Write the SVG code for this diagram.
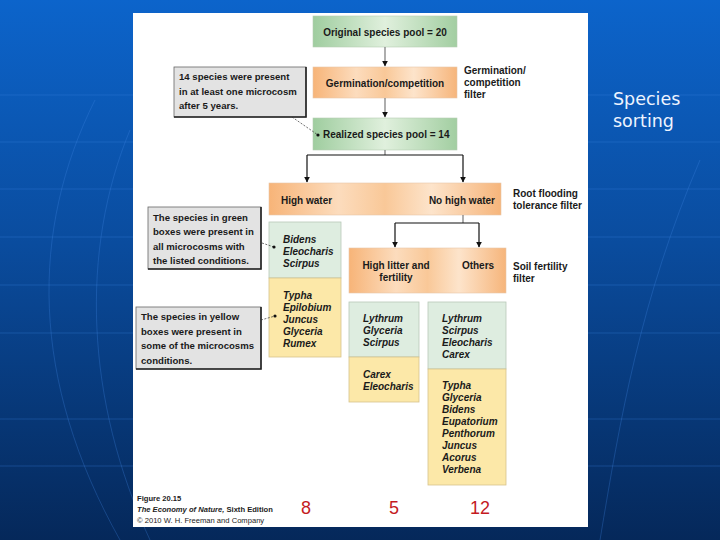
<svg xmlns="http://www.w3.org/2000/svg" width="720" height="540" viewBox="0 0 720 540">
<defs>
<linearGradient id="bg" x1="0" y1="0" x2="0" y2="1">
<stop offset="0" stop-color="#0c64cb"/>
<stop offset="0.45" stop-color="#0a4c9e"/>
<stop offset="1" stop-color="#05285a"/>
</linearGradient>
<linearGradient id="gr" x1="0" y1="0" x2="1" y2="0">
<stop offset="0" stop-color="#9fcd9f"/>
<stop offset="0.5" stop-color="#e0f0dd"/>
<stop offset="1" stop-color="#a2cea1"/>
</linearGradient>
<linearGradient id="or" x1="0" y1="0" x2="1" y2="0">
<stop offset="0" stop-color="#f7b478"/>
<stop offset="0.3" stop-color="#fcdcbd"/>
<stop offset="0.5" stop-color="#f9c898"/>
<stop offset="0.7" stop-color="#fde4cb"/>
<stop offset="1" stop-color="#f6b57b"/>
</linearGradient>
<marker id="ah" viewBox="0 0 10 10" refX="9" refY="5" markerWidth="5" markerHeight="6" orient="auto">
<path d="M0,0 L10,5 L0,10 z" fill="#111"/>
</marker>
</defs>
<style>
.lbl{font-family:"Liberation Sans",Arial,sans-serif;font-weight:bold;font-size:10px;fill:#1a1a1a}
.cl{font-family:"Liberation Sans",Arial,sans-serif;font-weight:bold;font-size:9.6px;fill:#1a1a1a}
.sp{font-family:"Liberation Sans",Arial,sans-serif;font-weight:bold;font-style:italic;font-size:10px;fill:#1a1a1a}
.call{fill:#e3e3e3;stroke:#666;stroke-width:0.8}
.shad{fill:none;stroke:#222;stroke-width:1.6}
.gbox{fill:#deede0;stroke:#b8c9b8;stroke-width:0.8}
.ybox{fill:#fce8a8;stroke:#d6c38c;stroke-width:0.8}
.conn{fill:none;stroke:#111;stroke-width:1.2}
.stem{fill:none;stroke:#777;stroke-width:1.2}
.lead{fill:none;stroke:#333;stroke-width:0.7;stroke-dasharray:2 1.5}
.num{font-family:"Liberation Sans",Arial,sans-serif;font-size:18px;fill:#c41a1f}
.cap{font-family:"Liberation Sans",Arial,sans-serif;font-size:7.6px;fill:#222}
.bgl{stroke:#3f86e0;stroke-width:1;opacity:0.3;fill:none}
</style>
<rect x="0" y="0" width="720" height="540" fill="url(#bg)"/>
<g id="bg-lines">
<line class="bgl" x1="0" y1="95" x2="720" y2="95"/>
<line class="bgl" x1="0" y1="142" x2="720" y2="142"/>
<line class="bgl" x1="0" y1="189" x2="720" y2="189"/>
<line class="bgl" x1="0" y1="237" x2="720" y2="237"/>
<line class="bgl" x1="0" y1="285" x2="720" y2="285"/>
<line class="bgl" x1="0" y1="333" x2="720" y2="333"/>
<line class="bgl" x1="0" y1="419" x2="720" y2="419"/>
<line class="bgl" x1="0" y1="466" x2="720" y2="466"/>
<path class="bgl" d="M95,100 C30,230 30,380 120,540"/>
<path class="bgl" d="M130,130 C80,250 85,400 150,540"/>
<path class="bgl" d="M700,160 C640,300 620,420 600,540"/>
</g>
<rect x="133" y="13" width="455" height="514" fill="#ffffff"/>
<g id="original-pool">
<rect x="313" y="16" width="144" height="31" fill="url(#gr)" stroke="#b5cdb3" stroke-width="0.6"/>
<text class="lbl" x="385" y="35.5" text-anchor="middle">Original species pool = 20</text>
</g>
<g id="germination">
<rect x="313" y="67" width="144" height="31" fill="url(#or)" stroke="#e8c7a8" stroke-width="0.6"/>
<text class="lbl" x="385" y="86.5" text-anchor="middle">Germination/competition</text>
</g>
<g id="germination-filter">
<text class="lbl" x="464" y="74">Germination/</text>
<text class="lbl" x="464" y="86">competition</text>
<text class="lbl" x="464" y="98">filter</text>
</g>
<g id="realized-pool">
<rect x="313" y="118" width="144" height="32" fill="url(#gr)" stroke="#b5cdb3" stroke-width="0.6"/>
<text class="lbl" x="323" y="138">Realized species pool = 14</text>
</g>
<g id="callout-14">
<rect class="call" x="174" y="67" width="132" height="50"/>
<polyline class="shad" points="306,67 306,117 174,117"/>
<text class="cl" x="179" y="80">14 species were present</text>
<text class="cl" x="179" y="95">in at least one microcosm</text>
<text class="cl" x="179" y="109">after 5 years.</text>
</g>
<g id="water">
<rect x="269" y="183" width="232" height="32" fill="url(#or)" stroke="#e8c7a8" stroke-width="0.6"/>
<text class="lbl" x="281" y="203.5">High water</text>
<text class="lbl" x="495" y="203.5" text-anchor="end">No high water</text>
</g>
<g id="root-filter">
<text class="lbl" x="513" y="197">Root flooding</text>
<text class="lbl" x="513" y="209">tolerance filter</text>
</g>
<g id="callout-green">
<rect class="call" x="148" y="207" width="113" height="62"/>
<polyline class="shad" points="261,207 261,269 148,269"/>
<text class="cl" x="153" y="220.5">The species in green</text>
<text class="cl" x="153" y="235">boxes were present in</text>
<text class="cl" x="153" y="249.5">all microcosms with</text>
<text class="cl" x="153" y="264">the listed conditions.</text>
</g>
<g id="high-water-species">
<rect class="gbox" x="269" y="222" width="72" height="56"/>
<rect class="ybox" x="269" y="278" width="72" height="79"/>
<text class="sp" x="283" y="242.5">Bidens</text>
<text class="sp" x="283" y="254.5">Eleocharis</text>
<text class="sp" x="283" y="266.5">Scirpus</text>
<text class="sp" x="283" y="298.5">Typha</text>
<text class="sp" x="283" y="310.5">Epilobium</text>
<text class="sp" x="283" y="322.5">Juncus</text>
<text class="sp" x="283" y="334.5">Glyceria</text>
<text class="sp" x="283" y="346.5">Rumex</text>
</g>
<g id="soil">
<rect x="349" y="248" width="157" height="45" fill="url(#or)" stroke="#e8c7a8" stroke-width="0.6"/>
<text class="lbl" x="396" y="268.5" text-anchor="middle">High litter and</text>
<text class="lbl" x="396" y="280.5" text-anchor="middle">fertility</text>
<text class="lbl" x="478" y="268.5" text-anchor="middle">Others</text>
</g>
<g id="soil-filter">
<text class="lbl" x="513" y="269.5">Soil fertility</text>
<text class="lbl" x="513" y="281.5">filter</text>
</g>
<g id="callout-yellow">
<rect class="call" x="136" y="307" width="125" height="62"/>
<polyline class="shad" points="261,307 261,369 136,369"/>
<text class="cl" x="141" y="320">The species in yellow</text>
<text class="cl" x="141" y="334.5">boxes were present in</text>
<text class="cl" x="141" y="349">some of the microcosms</text>
<text class="cl" x="141" y="363.5">conditions.</text>
</g>
<g id="litter-species">
<rect class="gbox" x="349" y="302" width="70" height="55"/>
<rect class="ybox" x="349" y="357" width="70" height="45"/>
<text class="sp" x="363" y="321.5">Lythrum</text>
<text class="sp" x="363" y="333.5">Glyceria</text>
<text class="sp" x="363" y="345.5">Scirpus</text>
<text class="sp" x="363" y="377.5">Carex</text>
<text class="sp" x="363" y="389.5">Eleocharis</text>
</g>
<g id="others-species">
<rect class="gbox" x="428" y="302" width="78" height="67"/>
<rect class="ybox" x="428" y="369" width="78" height="116"/>
<text class="sp" x="442" y="321.5">Lythrum</text>
<text class="sp" x="442" y="333.5">Scirpus</text>
<text class="sp" x="442" y="345.5">Eleocharis</text>
<text class="sp" x="442" y="357.5">Carex</text>
<text class="sp" x="442" y="388.5">Typha</text>
<text class="sp" x="442" y="400.5">Glyceria</text>
<text class="sp" x="442" y="412.5">Bidens</text>
<text class="sp" x="442" y="424.5">Eupatorium</text>
<text class="sp" x="442" y="436.5">Penthorum</text>
<text class="sp" x="442" y="448.5">Juncus</text>
<text class="sp" x="442" y="460.5">Acorus</text>
<text class="sp" x="442" y="472.5">Verbena</text>
</g>
<g id="connectors">
<line class="stem" x1="385" y1="47" x2="385" y2="66" marker-end="url(#ah)"/>
<line class="stem" x1="385" y1="98" x2="385" y2="117" marker-end="url(#ah)"/>
<line class="stem" x1="385" y1="150" x2="385" y2="155"/>
<polyline class="conn" points="307,155 463,155"/>
<line class="conn" x1="307" y1="155" x2="307" y2="182" marker-end="url(#ah)"/>
<line class="conn" x1="463" y1="155" x2="463" y2="182" marker-end="url(#ah)"/>
<line class="stem" x1="463" y1="215" x2="463" y2="223"/>
<polyline class="conn" points="395,223 479,223"/>
<line class="conn" x1="395" y1="223" x2="395" y2="247" marker-end="url(#ah)"/>
<line class="conn" x1="479" y1="223" x2="479" y2="247" marker-end="url(#ah)"/>
<line class="lead" x1="292" y1="117" x2="318" y2="135"/>
<circle cx="318" cy="135" r="1.6" fill="#111"/>
<line class="lead" x1="262" y1="243" x2="274" y2="247"/>
<circle cx="274" cy="247" r="1.6" fill="#111"/>
<line class="lead" x1="261" y1="320" x2="275" y2="316"/>
<circle cx="275" cy="316" r="1.6" fill="#111"/>
</g>
<g id="caption">
<text class="cap" x="137" y="500.5" font-weight="bold">Figure 20.15</text>
<text class="cap" x="137" y="511.5" font-weight="bold"><tspan font-style="italic">The Economy of Nature,</tspan> Sixth Edition</text>
<text class="cap" x="137" y="522.5">© 2010 W. H. Freeman and Company</text>
</g>
<g id="counts">
<text class="num" x="306" y="513.5" text-anchor="middle">8</text>
<text class="num" x="394" y="513.5" text-anchor="middle">5</text>
<text class="num" x="480" y="513.5" text-anchor="middle">12</text>
</g>
<g id="title">
<text x="613" y="105" font-family="DejaVu Sans, Verdana, sans-serif" font-size="17.5" fill="#eef4ff">Species</text>
<text x="613" y="127" font-family="DejaVu Sans, Verdana, sans-serif" font-size="17.5" fill="#eef4ff">sorting</text>
</g>
</svg>
